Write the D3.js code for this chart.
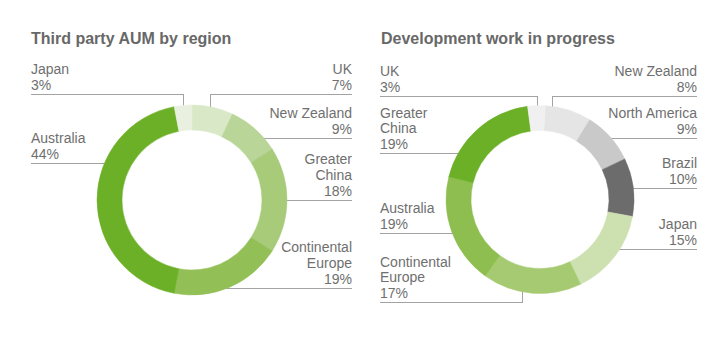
<!DOCTYPE html>
<html>
<head>
<meta charset="utf-8">
<script src="https://cdn.jsdelivr.net/npm/d3@7"></script>
<style>
  html, body { margin: 0; padding: 0; background: #fff; }
  svg { display: block; }
</style>
</head>
<body>
<svg id="chart" width="728" height="337"></svg>
<script>
// Third party AUM by region (clockwise from 12 o'clock)
const aumRegions = ["UK", "New Zealand", "Greater China", "Continental Europe", "Australia", "Japan"];
const aumShares  = [7, 9, 18, 19, 44, 3];

// Development work in progress (clockwise from 12 o'clock)
const dwipRegions = ["New Zealand", "North America", "Brazil", "Japan", "Continental Europe", "Australia", "Greater China", "UK"];
const dwipShares  = [8, 9, 10, 15, 17, 19, 19, 3];

const aumColors  = ["#d9e8c7", "#b9d597", "#a8cb7a", "#93bf57", "#6bb026", "#e9f0df"];
const dwipColors = ["#e5e5e5", "#c9c9c9", "#6c6c6c", "#cde1b0", "#a5ca71", "#8fbe50", "#6bb026", "#f0f0f0"];

// Names that break onto two lines
const wrapped = new Set(["Greater China", "Continental Europe"]);

// Label placement: side, y of the rule relative to the centre, optional elbow point within the slice
const aumLabelLayout = [
  { side: "right", rule: -106, elbow: 0.46 },
  { side: "right", rule: -62 },
  { side: "right", rule: 0 },
  { side: "right", rule: 88 },
  { side: "left",  rule: -37 },
  { side: "left",  rule: -106, elbow: 0.5 }
];
const dwipLabelLayout = [
  { side: "right", rule: -103.5, elbow: 0.16 },
  { side: "right", rule: -61.5 },
  { side: "right", rule: -11.5 },
  { side: "right", rule: 49.5 },
  { side: "left",  rule: 102.5, elbow: 0.6 },
  { side: "left",  rule: 33.5 },
  { side: "left",  rule: -46.5 },
  { side: "left",  rule: -103.5, elbow: 0.54 }
];

const svg = d3.select("#chart");
const FONT = "'Liberation Sans', Arial, Helvetica, sans-serif";

function drawDonut(cfg) {
  const data = cfg.names.map((n, i) => ({ name: n, value: cfg.values[i], color: cfg.colors[i], layout: cfg.layout[i] }));

  svg.append("text")
    .attr("x", cfg.titleX).attr("y", 44)
    .attr("font-family", FONT).attr("font-size", 16).attr("font-weight", "bold")
    .attr("fill", "#686868")
    .text(cfg.title);

  const g = svg.append("g").attr("transform", `translate(${cfg.cx},${cfg.cy})`);

  const off = cfg.rotate * Math.PI / 180;
  const pie = d3.pie().sort(null).value(d => d.value)
    .startAngle(off).endAngle(off + 2 * Math.PI);
  const arc = d3.arc().innerRadius(cfg.r).outerRadius(cfg.R);
  const arcs = pie(data);

  // leader rules sit beneath the ring
  const rules = g.append("g").attr("class", "rules");
  const labels = g.append("g").attr("class", "labels");

  arcs.forEach(d => {
    const L = d.data.layout;
    const right = L.side === "right";
    const textX = right ? cfg.textRight : cfg.textLeft;
    let path;
    if (L.elbow !== undefined) {
      const a = d.startAngle + L.elbow * (d.endAngle - d.startAngle);
      const px = (cfg.R - 2) * Math.sin(a);
      const py = -(cfg.R - 2) * Math.cos(a);
      path = `M${px},${py}V${L.rule}H${textX}`;
    } else {
      const xc = Math.sqrt(Math.max(0, (cfg.R - 2) ** 2 - L.rule ** 2)) * (right ? 1 : -1);
      path = `M${xc},${L.rule}H${textX}`;
    }
    rules.append("path")
      .attr("d", path)
      .attr("fill", "none")
      .attr("stroke", "#a3a3a3")
      .attr("stroke-width", 1)
      .attr("shape-rendering", "crispEdges");

    const lines = (wrapped.has(d.data.name) ? d.data.name.split(" ") : [d.data.name])
      .concat([`${d.data.value}%`]);
    const n = lines.length;
    const t = labels.append("text")
      .attr("font-family", FONT).attr("font-size", 14)
      .attr("fill", "#6f6f6f")
      .attr("text-anchor", right ? "end" : "start");
    lines.forEach((ln, i) => {
      t.append("tspan")
        .attr("x", textX)
        .attr("y", L.rule - 4.5 - (n - 1 - i) * cfg.lineH)
        .text(ln);
    });
  });

  g.append("g").selectAll("path")
    .data(arcs)
    .join("path")
    .attr("d", arc)
    .attr("fill", d => d.data.color)
    .attr("stroke", d => d.data.color)
    .attr("stroke-width", 0.5);
}

drawDonut({
  title: "Third party AUM by region", titleX: 31,
  names: aumRegions, values: aumShares, colors: aumColors, layout: aumLabelLayout,
  cx: 192, cy: 200, R: 95, r: 70, rotate: 0,
  textLeft: -161, textRight: 160, lineH: 16
});

drawDonut({
  title: "Development work in progress", titleX: 381,
  names: dwipRegions, values: dwipShares, colors: dwipColors, layout: dwipLabelLayout,
  cx: 540, cy: 199.5, R: 94, r: 69, rotate: 3.2,
  textLeft: -160, textRight: 157, lineH: 15.3
});
</script>
</body>
</html>
